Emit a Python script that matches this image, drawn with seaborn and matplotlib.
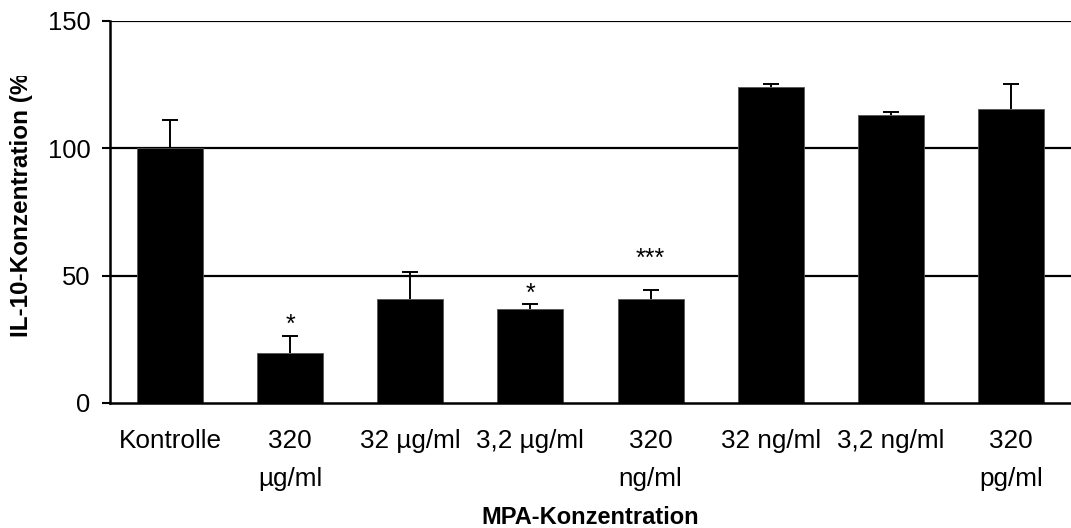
import numpy as np
import pandas as pd
import matplotlib
matplotlib.use("Agg")
import matplotlib.pyplot as plt
import seaborn as sns
from matplotlib.transforms import Bbox, TransformedBbox

# ---- data ----
categories = ["Kontrolle", "320\nµg/ml", "32 µg/ml", "3,2 µg/ml",
              "320\nng/ml", "32 ng/ml", "3,2 ng/ml", "320\npg/ml"]
values = [100.0, 19.5, 40.7, 36.8, 40.7, 124.0, 113.0, 115.3]
errors = [11.0, 7.0, 10.6, 2.1, 3.5, 1.3, 1.2, 10.0]
sig_labels = ["", "*", "", "*", "***", "", "", ""]
sig_y = [None, 26.0, None, 38.0, 52.0, None, None, None]
y_ticks = [0, 50, 100, 150]

sns.set_theme(style="white")
plt.rcParams["font.family"] = ["Liberation Sans", "DejaVu Sans"]

fig = plt.figure(figsize=(10.71, 5.28), dpi=100)
ax = fig.add_axes([110 / 1071, 1 - 403 / 528, 1 - 110 / 1071, (403 - 21) / 528])

df = pd.DataFrame({"cat": categories, "val": values})
sns.barplot(data=df, x="cat", y="val", color="black", width=0.55,
            edgecolor="#555555", linewidth=0.6, saturation=1, ax=ax, zorder=3)

pos = np.arange(len(categories))
eb = ax.errorbar(pos, values, yerr=[np.zeros(len(values)), errors], fmt="none",
                 ecolor="black", elinewidth=1.4, capsize=5.8, capthick=1.4, zorder=4)
# hide the lower caps (sitting on bar tops)
for cap in eb[1]:
    yd = np.asarray(cap.get_ydata(), dtype=float)
    if np.allclose(yd, values):
        cap.set_visible(False)

for i, (lab, yy) in enumerate(zip(sig_labels, sig_y)):
    if lab:
        ax.text(pos[i], yy, lab, ha="center", va="bottom", fontsize=18, color="black")

ax.set_xlim(-0.5, len(categories) - 0.5)
ax.set_ylim(0, 150)
ax.set_yticks(y_ticks)
for t in y_ticks[1:]:
    ax.axhline(t, color="black", linewidth=1.6, zorder=1)

for side in ["top", "right"]:
    ax.spines[side].set_visible(False)
ax.spines["left"].set_color("black")
ax.spines["left"].set_linewidth(1.8)
ax.spines["bottom"].set_color("black")
ax.spines["bottom"].set_linewidth(1.8)
ax.spines["bottom"].set_zorder(5)

ax.tick_params(axis="y", which="major", direction="out", length=6, width=1.5,
               color="black", labelsize=18.4, pad=8, left=True, labelcolor="black")
ax.tick_params(axis="x", which="major", length=0, labelsize=18.8, pad=19,
               labelcolor="black")
for lbl in ax.get_xticklabels():
    lbl.set_linespacing(1.7)

ax.set_xlabel("MPA-Konzentration", fontsize=17, fontweight="bold", color="black")
ax.xaxis.set_label_coords(0.5, -0.30)
ax.xaxis.label.set_va("center")

ylab = ax.set_ylabel("IL-10-Konzentration (%)", fontsize=17.5, fontweight="bold",
                     color="black")
ax.yaxis.set_label_coords(-0.092, 0.529)
ax.yaxis.label.set_va("center")
ylab.set_clip_box(TransformedBbox(Bbox([[0, 0], [1, 1 - 76 / 528]]), fig.transFigure))
ylab.set_clip_on(True)

ax.set_facecolor("white")
fig.patch.set_facecolor("white")
fig.savefig("out.png", dpi=100, facecolor="white")
